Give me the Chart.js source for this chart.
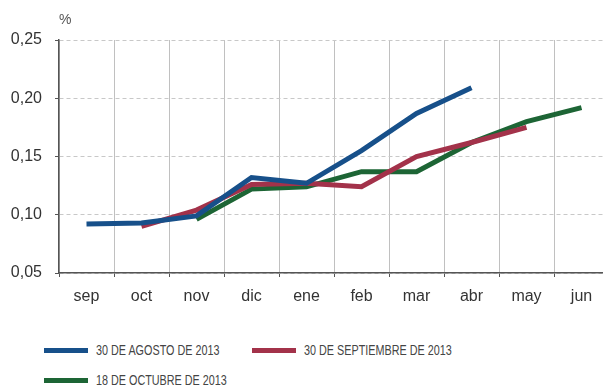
<!DOCTYPE html>
<html>
<head>
<meta charset="utf-8">
<script src="https://cdn.jsdelivr.net/npm/chart.js@4"></script>
<style>
  html, body { margin: 0; padding: 0; background: #fff; }
  #wrap { position: relative; width: 603px; height: 387px; overflow: hidden; background: #fff; }
  #box { position: absolute; left: 0; top: 0; width: 612px; height: 310px; }
  .legend-item { position: absolute; height: 16px; }
  .legend-item .swatch { position: absolute; left: 0; top: 4px; width: 44px; height: 5px; }
  .legend-item .label {
    position: absolute; left: 52px; top: -2px; white-space: nowrap;
    font-family: 'Liberation Sans', Arial, sans-serif;
    font-size: 15px; line-height: 16px; color: #444;
    transform: scaleX(0.72); transform-origin: 0 0;
  }
</style>
</head>
<body>
<div id="wrap">
  <div id="box"><canvas id="chart" width="612" height="310"></canvas></div>
  <div id="legend"></div>
</div>
<script>
// Months on the horizontal axis
const months = ['sep', 'oct', 'nov', 'dic', 'ene', 'feb', 'mar', 'abr', 'may', 'jun'];

// Expected rate by forecast date (%)
const agosto = [0.092, 0.093, 0.099, 0.132, 0.127, 0.155, 0.187, 0.209, null, null];
const septiembre = [null, 0.090, 0.104, 0.126, 0.127, 0.124, 0.150, 0.162, 0.175, null];
const octubre = [null, null, 0.096, 0.122, 0.124, 0.137, 0.137, 0.162, 0.180, 0.192];

const seriesNames = ['30 DE AGOSTO DE 2013', '30 DE SEPTIEMBRE DE 2013', '18 DE OCTUBRE DE 2013'];
const seriesColors = ['#17508a', '#a3324a', '#1d6535'];

const yTicks = [0.05, 0.10, 0.15, 0.20, 0.25];

const fontFamily = "'Liberation Sans', Arial, sans-serif";

// Draws the "%" unit above the value axis
const unitLabel = {
    id: 'unitLabel',
    afterDraw(chart) {
        const ctx = chart.ctx;
        ctx.save();
        ctx.font = '14px ' + fontFamily;
        ctx.fillStyle = '#555';
        ctx.textAlign = 'left';
        ctx.textBaseline = 'alphabetic';
        ctx.fillText('%', chart.chartArea.left, 24);
        ctx.restore();
    }
};

function makeDataset(label, data, color) {
    return {
        label: label,
        data: data,
        borderColor: color,
        backgroundColor: color,
        borderWidth: 5,
        pointRadius: 0,
        pointHoverRadius: 0,
        tension: 0,
        spanGaps: false,
        borderCapStyle: 'butt',
        borderJoinStyle: 'miter'
    };
}

const ctx = document.getElementById('chart').getContext('2d');
const chart = new Chart(ctx, {
    type: 'line',
    data: {
        labels: months,
        datasets: [
            makeDataset(seriesNames[0], agosto, seriesColors[0]),
            makeDataset(seriesNames[1], septiembre, seriesColors[1]),
            makeDataset(seriesNames[2], octubre, seriesColors[2])
        ]
    },
    options: {
        responsive: false,
        animation: false,
        devicePixelRatio: 1,
        layout: {
            padding: { top: 40, right: 3, left: 0, bottom: 0 }
        },
        plugins: {
            legend: { display: false },
            tooltip: { enabled: false }
        },
        scales: {
            x: {
                offset: true,
                grid: {
                    offset: true,
                    color: '#c0c0c0',
                    lineWidth: 1,
                    drawTicks: true,
                    tickLength: 4,
                    tickColor: '#555'
                },
                border: { color: '#555', width: 1.5 },
                ticks: {
                    color: '#333',
                    padding: 10,
                    maxRotation: 0,
                    autoSkip: false,
                    font: { family: fontFamily, size: 16 }
                },
                afterFit(scale) { scale.height = 37; }
            },
            y: {
                min: 0.05,
                max: 0.25,
                afterBuildTicks(scale) {
                    scale.ticks = yTicks.map(v => ({ value: v }));
                },
                grid: {
                    color: '#c8c8c8',
                    lineWidth: 1,
                    tickLength: 4,
                    tickColor: '#555',
                    tickBorderDash: [],
                    tickBorderDashOffset: 0
                },
                // in v4 border.dash sets the dash of the grid lines
                border: { color: '#555', width: 1.5, dash: [4, 3] },
                ticks: {
                    color: '#333',
                    padding: 13,
                    font: { family: fontFamily, size: 16 },
                    callback: v => v.toFixed(2).replace('.', ',')
                },
                afterFit(scale) { scale.width = 59; }
            }
        }
    },
    plugins: [unitLabel]
});

// Legend below the chart
const legendPos = [
    { left: 44, top: 344 },
    { left: 252, top: 344 },
    { left: 44, top: 374 }
];
const legend = document.getElementById('legend');
seriesNames.forEach((name, i) => {
    const item = document.createElement('div');
    item.className = 'legend-item';
    item.style.left = legendPos[i].left + 'px';
    item.style.top = legendPos[i].top + 'px';
    item.innerHTML = '<div class="swatch" style="background:' + seriesColors[i] + '"></div>' +
        '<div class="label">' + name + '</div>';
    legend.appendChild(item);
});
</script>
</body>
</html>
